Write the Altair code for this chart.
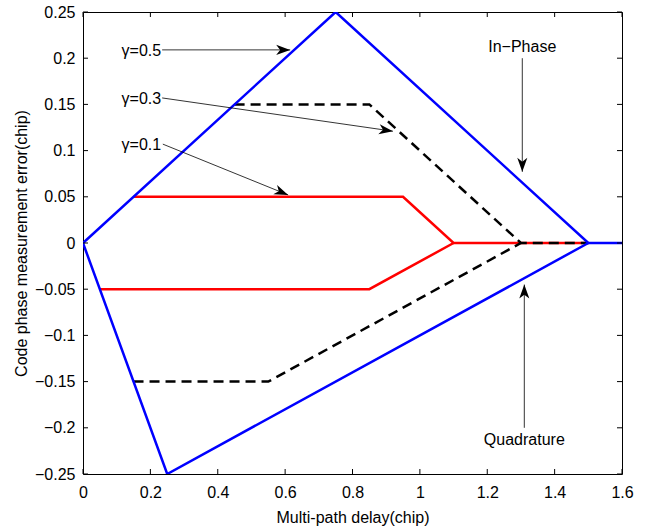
import math
import altair as alt
import pandas as pd

# ---- data ----
blue_upper_x = [0, 0.75, 1.5, 1.6]
blue_upper_y = [0, 0.25, 0, 0]
blue_lower_x = [0, 0.25, 1.5]
blue_lower_y = [0, -0.25, 0]
black_upper_x = [0.45, 0.85, 1.3, 1.5]
black_upper_y = [0.15, 0.15, 0, 0]
black_lower_x = [0.15, 0.55, 1.3]
black_lower_y = [-0.15, -0.15, 0]
red_upper_x = [0.15, 0.95, 1.1, 1.5]
red_upper_y = [0.05, 0.05, 0, 0]
red_lower_x = [0.05, 0.85, 1.1]
red_lower_y = [-0.05, -0.05, 0]

x_ticks = [0, 0.2, 0.4, 0.6, 0.8, 1.0, 1.2, 1.4, 1.6]
y_ticks = [-0.25, -0.2, -0.15, -0.1, -0.05, 0, 0.05, 0.1, 0.15, 0.2, 0.25]

ann_text = ["γ=0.5", "γ=0.3", "γ=0.1", "In−Phase", "Quadrature"]
ann_text_x = [0.232, 0.232, 0.232, 1.304, 1.310]
ann_text_y = [0.208, 0.156, 0.106, 0.212, -0.213]
ann_align = ["right", "right", "right", "center", "center"]
arrow_x1 = [0.235, 0.235, 0.237, 1.304, 1.310]
arrow_y1 = [0.209, 0.157, 0.107, 0.200, -0.200]
arrow_x2 = [0.615, 0.920, 0.609, 1.304, 1.310]
arrow_y2 = [0.209, 0.121, 0.052, 0.077, -0.045]

W, H = 539, 462
XMAX, YMIN, YMAX = 1.6, -0.25, 0.25


def seg(xs, ys, name):
    return pd.DataFrame({"x": xs, "y": ys, "seg": name, "i": range(len(xs))})


blue = pd.concat([seg(blue_upper_x, blue_upper_y, "bu"), seg(blue_lower_x, blue_lower_y, "bl")])
black = pd.concat([seg(black_upper_x, black_upper_y, "ku"), seg(black_lower_x, black_lower_y, "kl")])
red = pd.concat([seg(red_upper_x, red_upper_y, "ru"), seg(red_lower_x, red_lower_y, "rl")])

xs = alt.Scale(domain=[0, XMAX], nice=False, zero=False)
ys = alt.Scale(domain=[YMIN, YMAX], nice=False, zero=False)

font = "Liberation Sans"
axis_style = dict(labelFont=font, titleFont=font, labelFontSize=16, titleFontSize=16,
                  titleFontWeight="normal", labelColor="black", titleColor="black",
                  tickSize=0, domain=False, grid=False, labelFlush=False, labelOverlap=False)

xax = alt.Axis(values=x_ticks, format="~g", title="Multi-path delay(chip)",
               labelPadding=10, titlePadding=9, **axis_style)
yax = alt.Axis(values=y_ticks, format="~g", title="Code phase measurement error(chip)",
               labelPadding=8, titlePadding=5, **axis_style)


def X(field):
    return alt.X(field, scale=xs, axis=xax)


def Y(field):
    return alt.Y(field, scale=ys, axis=yax)


def line_layer(df, color, dash=None):
    kw = dict(color=color, strokeWidth=2.5, clip=True)
    if dash:
        kw["strokeDash"] = dash
    return alt.Chart(df).mark_line(**kw).encode(
        x=X("x:Q"), y=Y("y:Q"), detail="seg:N", order="i:Q",
    )


red_l = line_layer(red, "#ff0000")
black_l = line_layer(black, "#000000", [10, 6])
blue_l = line_layer(blue, "#0000ff")

# ticks inside the box
xt = pd.DataFrame({"v": x_ticks})
yt = pd.DataFrame({"v": y_ticks})
tick_kw = dict(color="black", strokeWidth=1)
t_bottom = alt.Chart(xt).mark_rule(**tick_kw).encode(x=X("v:Q"), y=alt.value(H), y2=alt.value(H - 5))
t_top = alt.Chart(xt).mark_rule(**tick_kw).encode(x=X("v:Q"), y=alt.value(0), y2=alt.value(5))
t_left = alt.Chart(yt).mark_rule(**tick_kw).encode(y=Y("v:Q"), x=alt.value(0), x2=alt.value(5))
t_right = alt.Chart(yt).mark_rule(**tick_kw).encode(y=Y("v:Q"), x=alt.value(W - 5), x2=alt.value(W))

# annotations
ann = pd.DataFrame({"t": ann_text, "tx": ann_text_x, "ty": ann_text_y, "al": ann_align,
                    "x1": arrow_x1, "y1": arrow_y1, "x2": arrow_x2, "y2": arrow_y2})
ang = []
for a in ann.itertuples():
    dx = (a.x2 - a.x1) / XMAX * W
    dy = -(a.y2 - a.y1) / (YMAX - YMIN) * H
    ang.append(math.degrees(math.atan2(dx, -dy)) % 360)
ann["ang"] = ang

texts = []
for al in ["right", "center"]:
    texts.append(alt.Chart(ann[ann["al"] == al]).mark_text(
        align=al, baseline="middle", fontSize=16, font=font, color="black"
    ).encode(x=X("tx:Q"), y=Y("ty:Q"), text="t:N"))

arrows = alt.Chart(ann).mark_rule(color="black", strokeWidth=0.8).encode(
    x=X("x1:Q"), y=Y("y1:Q"), x2="x2:Q", y2="y2:Q")

head_path = "M0,0 L0.36,1 L0,0.72 L-0.36,1 Z"
heads = alt.Chart(ann).mark_point(shape=head_path, filled=True, color="black", size=784, opacity=1,
                                  strokeWidth=0).encode(
    x=X("x2:Q"), y=Y("y2:Q"), angle=alt.Angle("ang:Q", scale=None))

chart = alt.layer(red_l, black_l, blue_l, t_bottom, t_top, t_left, t_right, arrows, heads, *texts).properties(
    width=W, height=H,
    background="white",
    autosize=alt.AutoSizeParams(type="none"),
    padding={"left": 83, "top": 12, "right": 26, "bottom": 53},
).configure_view(stroke="black", strokeWidth=1)

chart.save("out.html", embed_options={"renderer": "svg", "actions": False})
